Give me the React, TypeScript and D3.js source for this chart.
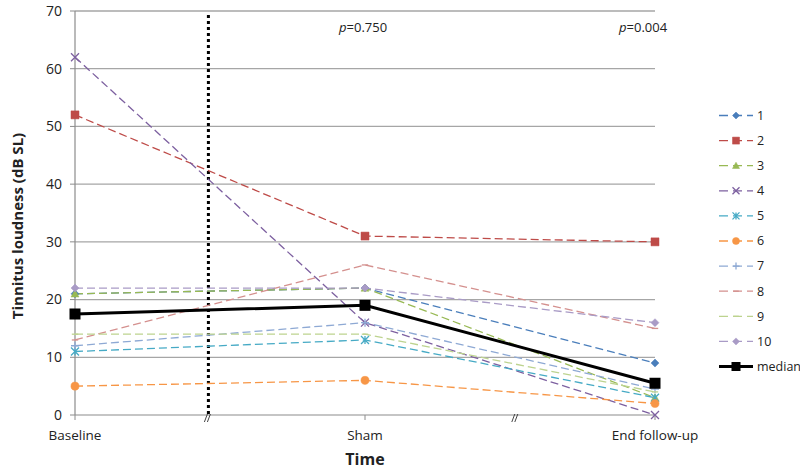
import React from "react";
import * as d3 from "d3";

const categories = ["Baseline", "Sham", "End follow-up"];
const seriesNames = ["1", "2", "3", "4", "5", "6", "7", "8", "9", "10"];
const s1 = [21, 22, 9];
const s2 = [52, 31, 30];
const s3 = [21, 22, 3];
const s4 = [62, 16, 0];
const s5 = [11, 13, 3];
const s6 = [5, 6, 2];
const s7 = [12, 16, 4.5];
const s8 = [13, 26, 15];
const s9 = [14, 14, 4];
const s10 = [22, 22, 16];
const median = [17.5, 19, 5.5];
const yTicks = [0, 10, 20, 30, 40, 50, 60, 70];
const pLabels = ["0.750", "0.004"];

const allSeries = [s1, s2, s3, s4, s5, s6, s7, s8, s9, s10];
const colors = ["#4A7EBB", "#BE4B48", "#98B954", "#7D60A0", "#46AAC5", "#F79646", "#8EA9D4", "#D4908E", "#BDD38F", "#A99BC6"];
const markers = ["diamond", "square", "triangle", "x", "asterisk", "circle", "plus", "dash", "dash", "diamond"];

function markerPath(type: string, s: number): string {
  const h = s / 2;
  switch (type) {
    case "diamond": return `M0,${-h}L${h},0L0,${h}L${-h},0Z`;
    case "square": return `M${-h},${-h}H${h}V${h}H${-h}Z`;
    case "triangle": return `M0,${-h}L${h},${h * 0.8}L${-h},${h * 0.8}Z`;
    case "circle": return d3.symbol().type(d3.symbolCircle).size(s * s * 0.8)() as string;
    case "x": return `M${-h},${-h}L${h},${h}M${-h},${h}L${h},${-h}`;
    case "asterisk": return `M${-h},${-h}L${h},${h}M${-h},${h}L${h},${-h}M0,${-h}V${h}`;
    case "plus": return `M${-h},0H${h}M0,${-h}V${h}`;
    case "dash": return `M${-h * 0.8},0H${h * 0.8}`;
  }
  return "";
}
const filled = (t: string) => ["diamond", "square", "triangle", "circle"].includes(t);

export default function App() {
  const W = 800, H = 469;
  const x = d3.scaleLinear().domain([0, 2]).range([75, 655]);
  const y = d3.scaleLinear().domain([0, 70]).range([415, 11]);
  const line = d3.line<number>().x((_, i) => x(i)).y((d) => y(d));
  const font = "'Open Sans', 'Liberation Sans', sans-serif";
  const breaks = [0.46, 1.52];
  const legendY = d3.scaleLinear().domain([0, 10]).range([115.5, 366.5]);

  return (
    <svg width={W} height={H} style={{ position: "absolute", left: 0, top: 0, background: "#fff" }} fontFamily={font}>
      {/* gridlines */}
      {yTicks.filter((t) => t > 0).map((t) => (
        <line key={t} x1={x(0)} x2={x(2)} y1={y(t)} y2={y(t)} stroke="#A6A6A6" strokeWidth={1.3} />
      ))}
      {/* y axis */}
      <line x1={x(0)} x2={x(0)} y1={y(0)} y2={y(70)} stroke="#8C8C8C" strokeWidth={1.2} />
      {yTicks.map((t) => (
        <g key={t}>
          <line x1={x(0) - 5} x2={x(0)} y1={y(t)} y2={y(t)} stroke="#8C8C8C" />
          <text x={x(0) - 13} y={y(t)} dy="0.35em" textAnchor="end" fontSize={14} fill="#222">{t}</text>
        </g>
      ))}
      {/* x axis */}
      <line x1={x(0)} x2={x(2)} y1={y(0)} y2={y(0)} stroke="#8C8C8C" strokeWidth={1.2} />
      {categories.map((c, i) => (
        <g key={c}>
          <line x1={x(i)} x2={x(i)} y1={y(0)} y2={y(0) + 5} stroke="#8C8C8C" />
          <text x={x(i)} y={y(0) + 25} textAnchor="middle" fontSize={13.5} fill="#222">{c}</text>
        </g>
      ))}
      {/* dotted separator */}
      <line x1={x(breaks[0])} x2={x(breaks[0])} y1={y(69.3)} y2={y(0)} stroke="#000" strokeWidth={3} strokeDasharray="3,3" />
      {/* break marks */}
      {breaks.map((b) => (
        <g key={b} stroke="#444" strokeWidth={1}>
          <line x1={x(b) - 4} x2={x(b) - 1} y1={y(0) + 7} y2={y(0) - 1} />
          <line x1={x(b) - 1} x2={x(b) + 2} y1={y(0) + 7} y2={y(0) - 1} />
        </g>
      ))}
      {/* series lines */}
      {allSeries.map((s, k) => (
        <path key={k} d={line(s) as string} fill="none" stroke={colors[k]} strokeWidth={1.3} strokeDasharray="8,4" />
      ))}
      {/* series markers */}
      {allSeries.map((s, k) =>
        s.map((v, i) => (
          <path key={`${k}-${i}`} transform={`translate(${x(i)},${y(v)})`} d={markerPath(markers[k], 8)}
            fill={filled(markers[k]) ? colors[k] : "none"} stroke={colors[k]} strokeWidth={filled(markers[k]) ? 0.5 : 1.3} />
        ))
      )}
      {/* median */}
      <path d={line(median) as string} fill="none" stroke="#000" strokeWidth={3} />
      {median.map((v, i) => (
        <rect key={i} x={x(i) - 5.5} y={y(v) - 5.5} width={11} height={11} fill="#000" />
      ))}
      {/* p labels */}
      {pLabels.map((p, i) => (
        <text key={p} x={i === 0 ? x(1) - 26 : x(2) - 36} y={32} fontSize={13} fill="#222">
          <tspan fontStyle="italic">p</tspan>={p}
        </text>
      ))}
      {/* axis titles */}
      <text x={x(1)} y={465} textAnchor="middle" fontSize={16} fontWeight="bold" fill="#222">Time</text>
      <text transform={`translate(23,${(y(0) + y(70)) / 2 + 13}) rotate(-90)`} textAnchor="middle" fontSize={15} fontWeight="bold" fill="#222">Tinnitus loudness (dB SL)</text>
      {/* legend */}
      {seriesNames.map((n, k) => (
        <g key={n} transform={`translate(0,${legendY(k)})`}>
          <line x1={719} x2={753} y1={0} y2={0} stroke={colors[k]} strokeWidth={1.3} strokeDasharray="9,5" />
          <path transform="translate(736,0)" d={markerPath(markers[k], 7)} fill={filled(markers[k]) ? colors[k] : "none"}
            stroke={colors[k]} strokeWidth={filled(markers[k]) ? 0.5 : 1.3} />
          <text x={757} y={0} dy="0.35em" fontSize={12.5} fill="#222">{n}</text>
        </g>
      ))}
      <g transform={`translate(0,${legendY(10)})`}>
        <line x1={719} x2={753} y1={0} y2={0} stroke="#000" strokeWidth={3} />
        <rect x={731.5} y={-4.5} width={9} height={9} fill="#000" />
        <text x={757} y={0} dy="0.35em" fontSize={12.5} fill="#222">median</text>
      </g>
    </svg>
  );
}
